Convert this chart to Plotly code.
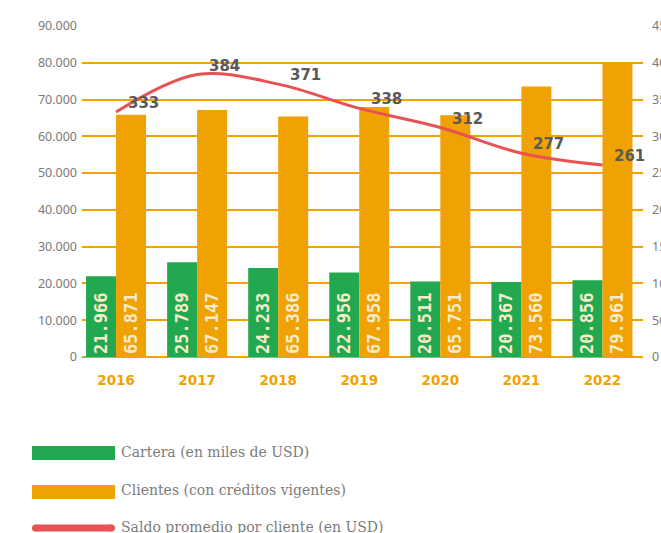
import plotly.graph_objects as go

years = ["2016", "2017", "2018", "2019", "2020", "2021", "2022"]
cartera = [21966, 25789, 24233, 22956, 20511, 20367, 20856]
clientes = [65871, 67147, 65386, 67958, 65751, 73560, 79961]
saldo = [333, 384, 371, 338, 312, 277, 261]
left_ticks = [0, 10000, 20000, 30000, 40000, 50000, 60000, 70000, 80000, 90000]
right_ticks = [0, 50, 100, 150, 200, 250, 300, 350, 400, 450]
legend_names = ["Cartera (en miles de USD)", "Clientes (con créditos vigentes)",
                "Saldo promedio por cliente (en USD)"]

GREEN = "#22a84f"
ORANGE = "#f0a202"
RED = "#e85252"
GRID = "#f3a200"
CREAM = "#f7ebcb"

W, H = 661, 533
L, R, T, B = 82, 18, 26, 176
PW, PH = W - L - R, H - T - B


def px2x(px):
    return (px - L) / PW


def px2y(py):
    return (H - B - py) / PH


fig = go.Figure()
fig.add_trace(go.Bar(
    x=years, y=cartera, name=legend_names[0], marker_color=GREEN,
    texttemplate="%{y:,}", textposition="inside", insidetextanchor="start",
    textangle=-90, insidetextfont=dict(family="DejaVu Sans Mono", size=17, color=CREAM, weight="bold"),
    showlegend=False, hoverinfo="skip", marker_line_width=0,
))
fig.add_trace(go.Bar(
    x=years, y=clientes, name=legend_names[1], marker_color=ORANGE,
    texttemplate="%{y:,}", textposition="inside", insidetextanchor="start",
    textangle=-90, insidetextfont=dict(family="DejaVu Sans Mono", size=17, color=CREAM, weight="bold"),
    showlegend=False, hoverinfo="skip", marker_line_width=0,
))
fig.add_trace(go.Scatter(
    x=years, y=saldo, name=legend_names[2], yaxis="y2", mode="lines",
    line=dict(color=RED, width=3, shape="spline", smoothing=1.0),
    showlegend=False, hoverinfo="skip",
))

annotations = []
for i, v in enumerate(saldo):
    annotations.append(dict(
        x=i, y=v, xref="x", yref="y2", text=str(v), showarrow=False,
        xshift=27, yshift=9, xanchor="center", yanchor="middle",
        font=dict(family="DejaVu Sans", size=15, color="#595959", weight="bold"),
    ))

# manual legend
shapes = []
leg_rows = [453, 492, 528]
for i, cy in enumerate(leg_rows[:2]):
    shapes.append(dict(type="rect", xref="paper", yref="paper",
                       x0=px2x(32), x1=px2x(115), y0=px2y(cy + 7), y1=px2y(cy - 7),
                       fillcolor=[GREEN, ORANGE][i], line_width=0, layer="above"))
cy = leg_rows[2]
shapes.append(dict(type="line", xref="paper", yref="paper",
                   x0=px2x(35.5), x1=px2x(111.5), y0=px2y(cy), y1=px2y(cy),
                   line=dict(color=RED, width=7)))
for cx in (35.5, 111.5):
    shapes.append(dict(type="circle", xref="paper", yref="paper",
                       x0=px2x(cx - 3.5), x1=px2x(cx + 3.5), y0=px2y(cy + 3.5), y1=px2y(cy - 3.5),
                       fillcolor=RED, line_width=0))
for name, cy in zip(legend_names, [452, 490, 527]):
    annotations.append(dict(
        x=px2x(121), y=px2y(cy), xref="paper", yref="paper", text=name,
        showarrow=False, xanchor="left", yanchor="middle", xshift=-2,
        font=dict(family="DejaVu Serif", size=14, color="#7c7c7c"),
    ))

fig.update_layout(
    width=W, height=H, margin=dict(l=L, r=R, t=T, b=B, autoexpand=False),
    paper_bgcolor="white", plot_bgcolor="white",
    separators=",.",
    barmode="group", bargap=0.26, bargroupgap=0,
    xaxis=dict(type="category", range=[-0.42, 6.5], showgrid=False, showline=False,
               ticks="outside", ticklen=11, tickcolor="rgba(0,0,0,0)",
               tickfont=dict(family="DejaVu Sans", size=13.5, color=ORANGE, weight="bold")),
    yaxis=dict(range=[0, 90000], tickvals=left_ticks, tickformat=",", showgrid=True,
               gridcolor=GRID, gridwidth=1.6, zeroline=True, zerolinecolor=GRID,
               zerolinewidth=1.6, ticks="", ticklabelstandoff=4,
               tickfont=dict(family="Noto Sans", size=12.5, color="#7a7a7a")),
    yaxis2=dict(range=[0, 450], tickvals=right_ticks, overlaying="y", side="right",
                showgrid=False, zeroline=False, ticks="", ticklabelstandoff=8,
                tickfont=dict(family="Noto Sans", size=12.5, color="#7a7a7a")),
    annotations=annotations, shapes=shapes,
)

fig.write_html("out.html")
